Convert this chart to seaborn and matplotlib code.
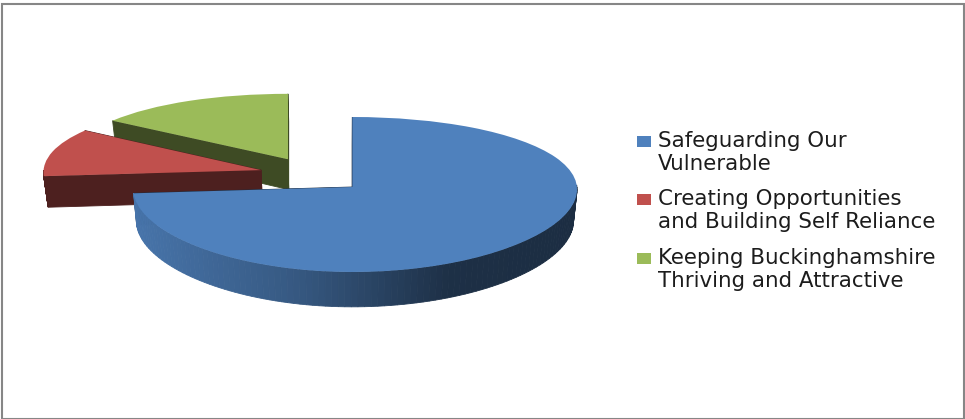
import numpy as np
import matplotlib
matplotlib.use("Agg")
import matplotlib.pyplot as plt
import matplotlib.transforms as mtransforms
from matplotlib.patches import Rectangle
import seaborn as sns

# values, percent of the whole
categories = [["Safeguarding Our", "Vulnerable"],
              ["Creating Opportunities", "and Building Self Reliance"],
              ["Keeping Buckinghamshire", "Thriving and Attractive"]]
shares = [73.7, 10.9, 15.4]
explode = [0.24, 0.24, 0.24]
slice_colors = ["#4f81bd", "#c0504d", "#9bbb59"]

# the view: pie units to picture pixels, top looks further away than bottom
X0, A, KX = 312.9, 223.5, 0.03
Y0, B, K = 174.7, 74.4, 0.0953
LEFT_SQUEEZE = 0.975
DEPTH = 31.0
X_PIVOT, X_SHRINK = 340.0, 0.985


def project(u, v, cu, low=False):
    # cu is the slice centre, lines through it stay upright
    u = np.asarray(u, dtype=float)
    v = np.asarray(v, dtype=float)
    w = 1 + K * v
    x = X0 + A * cu + A * (u - cu) / (1 + KX * v) * np.where(u < cu, LEFT_SQUEEZE, 1.0)
    y = Y0 - B * v / w
    if low:
        x = X_PIVOT + (x - X_PIVOT) * X_SHRINK
        y = y + DEPTH / w
    return x, y


class TiltedPie(mtransforms.Transform):
    input_dims = 2
    output_dims = 2

    def __init__(self, cu):
        super().__init__()
        self.cu = cu

    def transform_non_affine(self, values):
        x, y = project(values[:, 0], values[:, 1], self.cu)
        return np.column_stack([x, y])


sns.set_theme(style="white")
plt.rcParams["font.family"] = ["DejaVu Sans"]

fig, ax = plt.subplots(figsize=(9.65, 4.19), dpi=100)
ax.set_position([0, 0, 1, 1])

wedges, _ = ax.pie(shares, explode=explode, colors=slice_colors, startangle=90,
                   counterclock=False, radius=1.0)
ax.set_aspect("auto")
ax.set_xlim(0, 965)
ax.set_ylim(419, 0)
ax.axis("off")


def wall(ax, us, vs, cu, color, z):
    x1, y1 = project(us, vs, cu)
    x2, y2 = project(us[::-1], vs[::-1], cu, low=True)
    ax.fill(np.r_[x1, x2], np.r_[y1, y2], color=color, lw=0.6, zorder=z)


# green at the back, then red, blue in front
for rank, i in enumerate([2, 1, 0]):
    wedge = wedges[i]
    z = 2 + rank * 4
    cx, cy = wedge.center
    r = wedge.r
    top = np.array(matplotlib.colors.to_rgb(slice_colors[i]))

    # blue's cut faces go under its rim, the others show them in front
    cut_z = z if i == 0 else z + 1
    for a in [wedge.theta1, wedge.theta2]:
        end = np.radians(a)
        us = np.array([cx, cx + r * np.cos(end)])
        vs = np.array([cy, cy + r * np.sin(end)])
        wall(ax, us, vs, cx, top * (0.35 if i == 0 else 0.40), cut_z)

    angles = np.radians(np.linspace(wedge.theta1, wedge.theta2, 160))
    for a, b in zip(angles[:-1], angles[1:]):
        if np.sin(a) > 0 and np.sin(b) > 0:
            continue
        us = cx + r * np.cos([a, b])
        vs = cy + r * np.sin([a, b])
        if i == 0:
            # blue rim fades from the left to dark on the right
            xm = project(us.mean(), vs.mean(), cx)[0]
            shade = np.interp(xm, [135, 300, 450, 577], [0.90, 0.68, 0.37, 0.35])
        else:
            shade = 0.40
        wall(ax, us, vs, cx, top * shade, z + (0 if i != 0 else 1))

    wedge.set_transform(TiltedPie(cx) + ax.transData)
    wedge.set_zorder(z + 2)
    wedge.set_linewidth(0)

# legend, keys sit on the first line of each label
for i, y in enumerate([141, 199, 258]):
    ax.add_patch(Rectangle((637, y - 5.5), 14, 11, color=slice_colors[i], lw=0, zorder=20))
    ax.text(658, y, categories[i][0], fontsize=15.4, color="#1c1c1c", va="center", ha="left", zorder=20)
    ax.text(658, y + 22.5, categories[i][1], fontsize=15.4, color="#1c1c1c", va="center", ha="left", zorder=20)

# chart border
ax.add_patch(Rectangle((2, 4), 961.5, 415, fill=False, edgecolor="#868686", lw=1.5, zorder=30,
                       clip_on=False))

fig.savefig("out.png", dpi=100)
